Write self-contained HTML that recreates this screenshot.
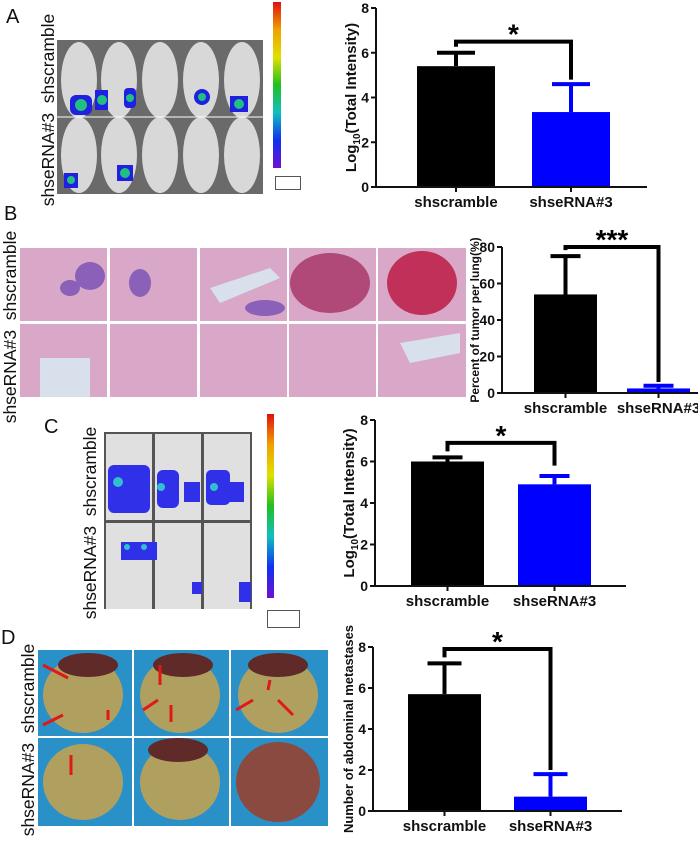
<!DOCTYPE html>
<html><head><meta charset="utf-8"><style>
body{margin:0;width:698px;height:836px;background:#fff;position:relative;overflow:hidden;font-family:"Liberation Sans",sans-serif}
.abs{position:absolute}
.lbl{position:absolute;font-size:20px;color:#111}
.rot{position:absolute;transform:rotate(-90deg);transform-origin:center;white-space:pre;font-size:17.5px;color:#111;text-align:center;width:220px;height:22px;line-height:22px}
</style></head><body>
<div class="lbl" style="left:6px;top:6px">A</div>
<div class="lbl" style="left:4px;top:203px">B</div>
<div class="lbl" style="left:44px;top:416px">C</div>
<div class="lbl" style="left:1px;top:627px">D</div>

<!-- Panel A image -->
<div class="abs" style="left:57px;top:40px;width:206px;height:154px;background:#6a6a6a">
 <svg width="206" height="154">
  <g fill="#d8d8d8">
   <ellipse cx="22" cy="40" rx="18" ry="38"/><ellipse cx="62" cy="40" rx="18" ry="38"/><ellipse cx="103" cy="40" rx="18" ry="38"/><ellipse cx="144" cy="40" rx="18" ry="38"/><ellipse cx="185" cy="40" rx="18" ry="38"/>
   <ellipse cx="22" cy="115" rx="18" ry="38"/><ellipse cx="62" cy="115" rx="18" ry="38"/><ellipse cx="103" cy="115" rx="18" ry="38"/><ellipse cx="144" cy="115" rx="18" ry="38"/><ellipse cx="185" cy="115" rx="18" ry="38"/>
  </g>
  <line x1="0" y1="77" x2="206" y2="77" stroke="#fff"/>
  <g fill="#2020e0"><rect x="13" y="55" width="22" height="20" rx="6"/><rect x="67" y="48" width="12" height="20" rx="4"/><rect x="42" y="58" width="8" height="10"/><rect x="38" y="50" width="13" height="20"/><rect x="137" y="49" width="16" height="16" rx="8"/><rect x="173" y="56" width="18" height="16"/><rect x="7" y="133" width="14" height="15"/><rect x="60" y="125" width="16" height="16"/></g>
  <g fill="#20c080"><circle cx="24" cy="65" r="6"/><circle cx="73" cy="58" r="4"/><circle cx="45" cy="60" r="5"/><circle cx="145" cy="57" r="4"/><circle cx="182" cy="64" r="5"/><circle cx="14" cy="140" r="4"/><circle cx="68" cy="133" r="5"/></g>
 </svg>
</div>
<div class="abs" style="left:273px;top:2px;width:8px;height:166px;background:linear-gradient(#e01010,#f0a000,#e0e000,#20c020,#10c0c0,#1030f0,#7010d0)"></div>
<div class="abs" style="left:275px;top:176px;width:24px;height:12px;border:1px solid #555"></div>
<div class="rot" style="left:-62px;top:99px">shseRNA#3  shscramble</div>

<!-- Panel B histology -->
<div class="abs" style="left:20px;top:248px;width:446px;height:149px;background:#fff">
 <svg width="446" height="149">
  <g fill="#d9a8c8"><rect x="0" y="0" width="87" height="73"/><rect x="90" y="0" width="87" height="73"/><rect x="180" y="0" width="87" height="73"/><rect x="269" y="0" width="87" height="73"/><rect x="358" y="0" width="88" height="73"/>
  <rect x="0" y="76" width="87" height="73"/><rect x="90" y="76" width="87" height="73"/><rect x="180" y="76" width="87" height="73"/><rect x="269" y="76" width="87" height="73"/><rect x="358" y="76" width="88" height="73"/></g>
  <g fill="#8a60b8"><ellipse cx="70" cy="28" rx="15" ry="14"/><ellipse cx="120" cy="35" rx="11" ry="14"/><ellipse cx="50" cy="40" rx="10" ry="8"/><ellipse cx="245" cy="60" rx="20" ry="8"/></g>
  <ellipse cx="310" cy="35" rx="40" ry="30" fill="#b04878"/><ellipse cx="402" cy="35" rx="35" ry="32" fill="#c03058"/>
  <g fill="#d8e0ec"><path d="M190 40 L250 20 L260 30 L200 55Z"/><rect x="20" y="110" width="50" height="39"/><path d="M380 95 L440 85 L440 105 L390 115Z"/></g>
 </svg>
</div>
<div class="rot" style="left:-100px;top:316px">shseRNA#3  shscramble</div>

<!-- Panel C image -->
<div class="abs" style="left:104px;top:432px;width:148px;height:177px;background:#555">
 <svg width="148" height="177">
  <g fill="#e0e0e0"><rect x="2" y="2" width="46" height="86"/><rect x="51" y="2" width="46" height="86"/><rect x="100" y="2" width="46" height="86"/><rect x="2" y="91" width="46" height="86"/><rect x="51" y="91" width="46" height="86"/><rect x="100" y="91" width="46" height="86"/></g>
  <g fill="#3030e8"><rect x="4" y="33" width="42" height="48" rx="6"/><rect x="53" y="38" width="22" height="38" rx="6"/><rect x="80" y="50" width="16" height="20"/><rect x="102" y="38" width="24" height="35" rx="5"/><rect x="124" y="50" width="16" height="20"/><rect x="17" y="110" width="36" height="18"/><rect x="88" y="150" width="10" height="12"/><rect x="135" y="150" width="12" height="20"/></g>
  <g fill="#30c0d0"><circle cx="14" cy="50" r="5"/><circle cx="57" cy="55" r="4"/><circle cx="110" cy="55" r="4"/><circle cx="23" cy="115" r="3"/><circle cx="40" cy="115" r="3"/></g>
 </svg>
</div>
<div class="abs" style="left:267px;top:414px;width:7px;height:184px;background:linear-gradient(#e01010,#f0a000,#e0e000,#20c020,#10c0c0,#1030f0,#7010d0)"></div>
<div class="abs" style="left:267px;top:610px;width:31px;height:16px;border:1px solid #555"></div>
<div class="rot" style="left:-20px;top:512px">shseRNA#3  shscramble</div>

<!-- Panel D photo -->
<div class="abs" style="left:38px;top:650px;width:290px;height:176px;background:#2a90c8">
 <svg width="290" height="176">
  <g fill="#b0a060"><ellipse cx="45" cy="45" rx="40" ry="38"/><ellipse cx="142" cy="45" rx="40" ry="38"/><ellipse cx="240" cy="45" rx="40" ry="38"/><ellipse cx="45" cy="132" rx="40" ry="38"/><ellipse cx="142" cy="132" rx="40" ry="38"/></g>
  <ellipse cx="240" cy="132" rx="42" ry="40" fill="#8a4a40"/>
  <g fill="#602a28"><ellipse cx="50" cy="15" rx="30" ry="12"/><ellipse cx="145" cy="15" rx="30" ry="12"/><ellipse cx="240" cy="15" rx="30" ry="12"/><ellipse cx="140" cy="100" rx="30" ry="12"/></g>
  <line x1="0" y1="87" x2="290" y2="87" stroke="#fff" stroke-width="2"/><line x1="95" y1="0" x2="95" y2="176" stroke="#fff" stroke-width="2"/><line x1="192" y1="0" x2="192" y2="176" stroke="#fff" stroke-width="2"/>
  <g stroke="#e01818" stroke-width="3"><line x1="5" y1="15" x2="30" y2="28"/><line x1="5" y1="75" x2="25" y2="65"/><line x1="70" y1="70" x2="70" y2="60"/><line x1="122" y1="15" x2="122" y2="35"/><line x1="105" y1="60" x2="120" y2="50"/><line x1="133" y1="72" x2="133" y2="55"/><line x1="198" y1="60" x2="215" y2="50"/><line x1="232" y1="30" x2="230" y2="40"/><line x1="255" y1="65" x2="240" y2="50"/><line x1="33" y1="125" x2="33" y2="105"/></g>
 </svg>
</div>
<div class="rot" style="left:-82px;top:729px">shseRNA#3  shscramble</div>

<svg id="charts" class="abs" style="left:0;top:0" width="698" height="836"></svg>

<script>
const categories = ["shscramble", "shseRNA#3"];
const barColors = ["#000000", "#0000ff"];
const valuesA = [5.4, 3.35];
const errorsA = [0.6, 1.25];
const ticksA = [0, 2, 4, 6, 8];
const valuesB = [54, 2.5];
const errorsB = [21, 1.5];
const ticksB = [0, 20, 40, 60, 80];
const valuesC = [6.0, 4.9];
const errorsC = [0.2, 0.4];
const ticksC = [0, 2, 4, 6, 8];
const valuesD = [5.7, 0.7];
const errorsD = [1.5, 1.1];
const ticksD = [0, 2, 4, 6, 8];

const NS = "http://www.w3.org/2000/svg";
const svg = document.getElementById("charts");
function mk(tag, attrs, parent) {
  const e = document.createElementNS(NS, tag);
  for (const k in attrs) e.setAttribute(k, attrs[k]);
  (parent || svg).appendChild(e);
  return e;
}
function chart(cfg) {
  const g = mk("g", {});
  
  
  const max = cfg.ticks[cfg.ticks.length - 1];
  const y = v => cfg.y0 - (v / max) * (cfg.y0 - cfg.yTop);
  const x = i => cfg.barX[i];
  cfg.values.forEach((v, i) => {
    const r = mk("rect", {x: x(i), y: y(v), width: cfg.bw, height: cfg.y0 - y(v), fill: barColors[i]}, g);
    
    
    const cx = x(i) + cfg.bw / 2, top = y(v + cfg.errors[i]);
    const el = mk("path", {d: `M${cx} ${y(v)}V${top}M${cx - cfg.cap} ${top}H${cx + cfg.cap}`, stroke: barColors[i], "stroke-width": 4, fill: "none"}, g);
    
    
    const t = mk("text", {x: cx, y: cfg.y0 + 20, "text-anchor": "middle", "font-size": 15, "font-weight": "bold", fill: "#111"}, g);
    t.textContent = categories[i];
    
    
  });
  const ax = mk("path", {d: `M${cfg.ax} ${cfg.yTop}V${cfg.y0}H${cfg.axEnd}`, stroke: "#111", "stroke-width": 2, fill: "none"}, g);
  
  
  cfg.ticks.forEach(tv => {
    mk("line", {x1: cfg.ax - 5, x2: cfg.ax, y1: y(tv), y2: y(tv), stroke: "#111", "stroke-width": 2}, g);
    const t = mk("text", {x: cfg.ax - 7, y: y(tv) + 5, "text-anchor": "end", "font-size": 14, "font-weight": "bold", fill: "#111"}, g);
    t.textContent = tv;
    
    
  });
  categories.forEach((c, i) => mk("line", {x1: x(i) + cfg.bw / 2, x2: x(i) + cfg.bw / 2, y1: cfg.y0, y2: cfg.y0 + 5, stroke: "#111", "stroke-width": 2}, g));
  const c0 = x(0) + cfg.bw / 2, c1 = x(1) + cfg.bw / 2, by = y(cfg.bracket);
  const br = mk("path", {d: `M${c0} ${y(cfg.values[0] + cfg.errors[0]) - 6}V${by}H${c1}V${y(cfg.bEnd)}`, stroke: "#000", "stroke-width": 4, fill: "none"}, g);
  
  
  const st = mk("text", {x: (c0 + c1) / 2, y: by + 16, "text-anchor": "middle", "font-size": 28, "font-weight": "bold", fill: "#000"}, g);
  st.textContent = cfg.star;
  st.setAttribute('transform', `translate(0,-14)`);
  
  
  const tt = mk("text", {x: 0, y: 0, transform: `translate(${cfg.titleX},${(cfg.y0 + cfg.yTop) / 2}) rotate(-90)`, "text-anchor": "middle", "font-size": cfg.titleSize, "font-weight": "bold", fill: "#111"}, g);
  tt.innerHTML = cfg.title;
  
  
}
const logTitle = 'Log<tspan font-size="10" dy="4">10</tspan><tspan dy="-4">(Total Intensity)</tspan>';
chart({name: "chart-a", values: valuesA, errors: errorsA, ticks: ticksA, y0: 187, yTop: 8, ax: 376, axEnd: 647, barX: [417, 532], bw: 78, cap: 19, bracket: 6.5, bEnd: 4.8, star: "*", title: logTitle, titleX: 356, titleSize: 15});
chart({name: "chart-b", values: valuesB, errors: errorsB, ticks: ticksB, y0: 393, yTop: 247, ax: 502, axEnd: 698, barX: [534, 627], bw: 63, cap: 15, bracket: 80, bEnd: 6, star: "***", title: "Percent of tumor per lung(%)", titleX: 479, titleSize: 12});
chart({name: "chart-c", values: valuesC, errors: errorsC, ticks: ticksC, y0: 586, yTop: 420, ax: 375, axEnd: 626, barX: [411, 518], bw: 73, cap: 15, bracket: 6.9, bEnd: 5.8, star: "*", title: logTitle, titleX: 354, titleSize: 15});
chart({name: "chart-d", values: valuesD, errors: errorsD, ticks: ticksD, y0: 811, yTop: 647, ax: 373, axEnd: 622, barX: [408, 514], bw: 73, cap: 17, bracket: 7.9, bEnd: 2.0, star: "*", title: "Number of abdominal metastases", titleX: 353, titleSize: 13});
</script>
</body></html>
